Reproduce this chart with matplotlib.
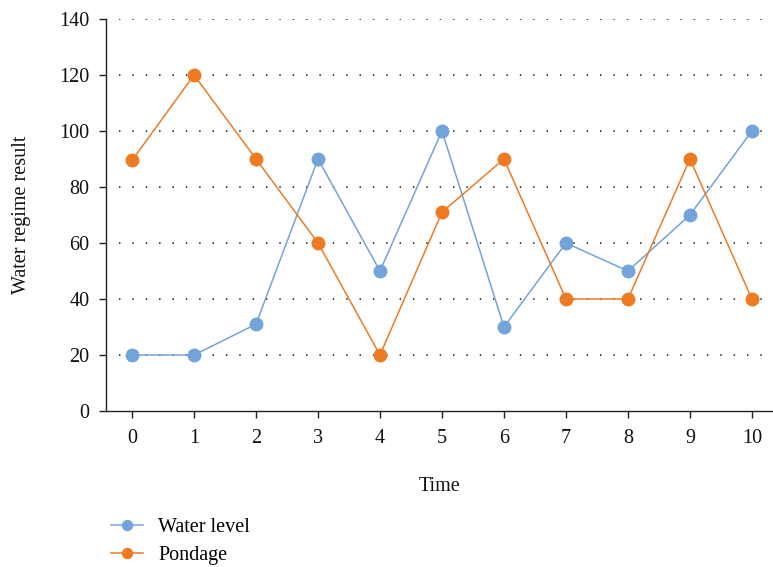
import matplotlib
matplotlib.use("Agg")
import matplotlib.pyplot as plt

time = list(range(11))
water_level = [20, 20, 31, 90, 50, 100, 30, 60, 50, 70, 100]
pondage = [89.5, 120, 90, 60, 20, 71, 90, 40, 40, 90, 40]
y_ticks = [0, 20, 40, 60, 80, 100, 120, 140]

blue = "#73A4D9"
orange = "#EE7B22"

plt.rcParams['font.family'] = ['Liberation Serif', 'DejaVu Serif']

fig = plt.figure(figsize=(7.73, 5.67), dpi=100)
ax = fig.add_axes([106/773, 1-411/567, 1-106/773, (411-19)/567])

ax.plot(time, water_level, color=blue, lw=1.1, marker='o', ms=9,
        label='Water level', zorder=3, clip_on=False)
ax.plot(time, pondage, color=orange, lw=1.1, marker='o', ms=9,
        label='Pondage', zorder=3, clip_on=False)

ax.set_xlim(-0.42, 10.34)
ax.set_ylim(0, 140)
ax.set_xticks(time)
ax.set_yticks(y_ticks)
for y in y_ticks[1:]:
    ax.axhline(y, xmin=0.02, color='#333333', lw=1.3, ls=(0, (0.8, 6.6)), zorder=1)

for s in ['top', 'right']:
    ax.spines[s].set_visible(False)
for s in ['left', 'bottom']:
    ax.spines[s].set_color('#222222')
    ax.spines[s].set_linewidth(1.0)
ax.tick_params(axis='both', direction='out', length=5, width=1.0,
               color='#222222', labelsize=14.5, labelcolor='#111111')
ax.tick_params(axis='x', pad=8)
ax.tick_params(axis='y', pad=7)

ax.set_xlabel('Time', fontsize=14.5, labelpad=21, color='#111111')
ax.set_ylabel('Water regime result', fontsize=14.5, labelpad=20, color='#111111')

leg = fig.legend(loc='upper left', bbox_to_anchor=(103/773, 1-510/567),
                 frameon=False, fontsize=14.5, handlelength=1.6,
                 handletextpad=0.75, labelspacing=0.45, markerscale=0.8,
                 borderaxespad=0)

fig.savefig('out.png', dpi=100)
